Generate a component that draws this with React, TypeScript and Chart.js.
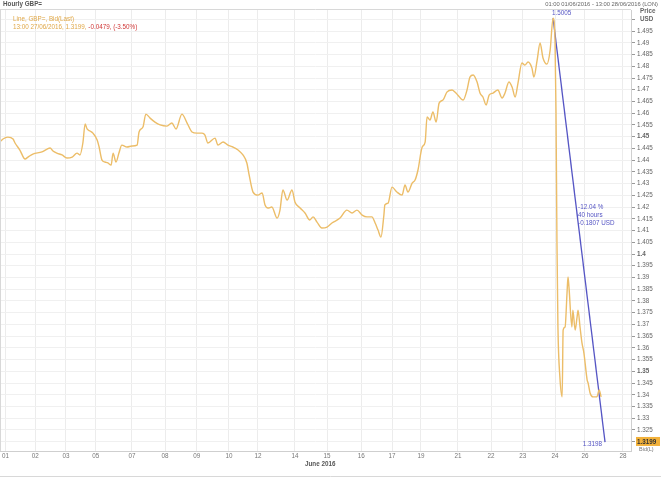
import React, { useEffect, useRef } from "react";
import { Chart, registerables } from "chart.js";

Chart.register(...registerables);

// Trading-time position (in trading days from 1 June, weekends compressed)
const timePos = [
  -0.09, 0, 0.15, 0.31, 0.37, 0.52, 0.68, 0.77, 0.92, 1.2, 1.36, 1.45, 1.54, 1.66, 1.82, 1.97, 2.13, 2.28, 2.37, 2.46,
  2.53, 2.59, 2.68, 2.77, 2.9, 2.96, 3.05, 3.14, 3.23, 3.33, 3.39, 3.48, 3.57, 3.66, 3.82, 3.97, 4.13, 4.19, 4.31, 4.4,
  4.53, 4.68, 4.84, 5.05, 5.2, 5.33, 5.51, 5.67, 5.82, 5.97, 6.13, 6.22, 6.31, 6.53, 6.62, 6.78, 6.93, 7.08, 7.24, 7.39,
  7.51, 7.58, 7.7, 7.85, 7.98, 8.07, 8.16, 8.28, 8.44, 8.53, 8.62, 8.75, 8.9, 8.99, 9.15, 9.3, 9.45, 9.55, 9.67, 9.82,
  9.98, 10.13, 10.38, 10.59, 10.75, 10.9, 11.06, 11.21, 11.36, 11.46, 11.55, 11.64, 11.73, 11.76, 11.86, 11.98, 12.13,
  12.29, 12.38, 12.47, 12.6, 12.69, 12.78, 12.91, 13.0, 13.06, 13.15, 13.24, 13.34, 13.43, 13.55, 13.67, 13.83, 13.92,
  14.01, 14.17, 14.29, 14.38, 14.48, 14.6, 14.69, 14.78, 14.88, 14.97, 15.09, 15.24, 15.37, 15.46, 15.58, 15.68, 15.77,
  15.86, 15.98, 16.07, 16.17, 16.29, 16.35, 16.45, 16.54, 16.63, 16.75, 16.85, 16.94, 17.0, 17.03, 17.06, 17.09, 17.15,
  17.22, 17.25, 17.31, 17.37, 17.4, 17.43, 17.52, 17.55, 17.62, 17.68, 17.71, 17.77, 17.83, 17.89, 17.99, 18.02, 18.08,
  18.17, 18.29, 18.36, 18.42,
];

// GBP= Bid (Last), USD
const bidPrice = [
  1.4478, 1.449, 1.4498, 1.449, 1.4473, 1.4443, 1.4405, 1.4413, 1.4426, 1.4435, 1.4447, 1.4452, 1.4439, 1.443, 1.4422,
  1.4409, 1.4413, 1.443, 1.4422, 1.4473, 1.4554, 1.4533, 1.4524, 1.4515, 1.4486, 1.4456, 1.44, 1.4392, 1.4388, 1.4379,
  1.443, 1.4392, 1.443, 1.4464, 1.4456, 1.446, 1.4464, 1.452, 1.4541, 1.4596, 1.4579, 1.4562, 1.455, 1.4545, 1.4558,
  1.4533, 1.4596, 1.4558, 1.452, 1.4515, 1.4515, 1.4507, 1.4473, 1.4494, 1.4464, 1.4477, 1.4464, 1.4456, 1.4443, 1.4422,
  1.4388, 1.4337, 1.4264, 1.4251, 1.426, 1.4209, 1.4196, 1.42, 1.4153, 1.4187, 1.4273, 1.423, 1.4273, 1.4222, 1.4196,
  1.4175, 1.4145, 1.4158, 1.4136, 1.4111, 1.4115, 1.4132, 1.4153, 1.4187, 1.4175, 1.4187, 1.4166, 1.4158, 1.4158, 1.4132,
  1.4102, 1.4072, 1.4166, 1.4209, 1.4217, 1.4285, 1.4264, 1.4251, 1.4294, 1.4264, 1.4302, 1.4315, 1.4358, 1.4456, 1.4477,
  1.4584, 1.4571, 1.4605, 1.4562, 1.4643, 1.4656, 1.469, 1.4699, 1.469, 1.4677, 1.4656, 1.4699, 1.4754, 1.4763, 1.4733,
  1.4686, 1.4669, 1.4635, 1.4677, 1.4686, 1.4699, 1.4665, 1.4686, 1.4733, 1.4711, 1.4669, 1.4728, 1.4814, 1.4805, 1.4818,
  1.4792, 1.4754, 1.4826, 1.4899, 1.4835, 1.4809, 1.4869, 1.5005, 1.4912, 1.4613, 1.4047, 1.3689, 1.3476, 1.3391, 1.3676,
  1.3689, 1.3834, 1.3902, 1.3859, 1.3689, 1.3761, 1.3676, 1.3732, 1.3761, 1.3689, 1.3621, 1.3578, 1.3463, 1.345, 1.3408,
  1.3391, 1.3391, 1.3421, 1.3391,
];

const dayTickPos = [0.08, 0.99, 1.94, 2.86, 3.97, 4.99, 5.97, 6.96, 7.85, 8.99, 9.98, 11.03, 11.98, 12.87, 14.01, 15.03, 16.01, 17.0, 17.92, 19.09];
const dayTickLabels = ["01", "02", "03", "05", "07", "08", "09", "10", "12", "14", "15", "16", "17", "19", "21", "22", "23", "24", "26", "28"];

const priceTicks = [
  1.32, 1.325, 1.33, 1.335, 1.34, 1.345, 1.35, 1.355, 1.36, 1.365, 1.37, 1.375, 1.38, 1.385, 1.39, 1.395, 1.4, 1.405,
  1.41, 1.415, 1.42, 1.425, 1.43, 1.435, 1.44, 1.445, 1.45, 1.455, 1.46, 1.465, 1.47, 1.475, 1.48, 1.485, 1.49, 1.495, 1.5,
];
const boldPriceTicks = [1.35, 1.4, 1.45, 1.5];
const hiddenPriceTicks = [1.5];

// Trend measurement line
const trendPos = [16.94, 18.54];
const trendPrice = [1.5005, 1.3198];
const trendStats = ["-12.04 %", "40 hours", "-0.1807 USD"];

const lastPrice = 1.3199;
const titleText = "Hourly GBP=";
const rangeText = "01:00 01/06/2016 - 13:00 28/06/2016 (LON)";
const legendLine1 = "Line, GBP=, Bid(Last)";
const legendLine2a = "13:00 27/06/2016, 1.3199, ";
const legendLine2b = "-0.0479, (-3.50%)";
const monthLabel = "June 2016";
const monthLabelPos = 9.3;

const FONT = "'Liberation Sans', Arial, sans-serif";
const ORANGE = "#ecbd68";
const BLUE = "#5555c4";

const overlay = {
  id: "overlay",
  beforeDraw(chart: any) {
    const { ctx, width, height } = chart;
    ctx.save();
    ctx.fillStyle = "#ffffff";
    ctx.fillRect(0, 0, width, height);
    ctx.restore();
  },
  afterDraw(chart: any) {
    const { ctx, chartArea, scales } = chart;
    const xS = scales.x;
    const yS = scales.y;
    ctx.save();
    // frame lines
    ctx.strokeStyle = "#d8d8d8";
    ctx.lineWidth = 1;
    ctx.beginPath();
    ctx.moveTo(0, chartArea.top - 0.5);
    ctx.lineTo(chartArea.right, chartArea.top - 0.5);
    ctx.moveTo(0.5, chartArea.top);
    ctx.lineTo(0.5, chartArea.bottom);
    ctx.moveTo(0, 476.5);
    ctx.lineTo(chart.width, 476.5);
    ctx.stroke();

    ctx.textBaseline = "middle";
    // title
    ctx.font = `bold 6.3px ${FONT}`;
    ctx.fillStyle = "#555";
    ctx.textAlign = "left";
    ctx.fillText(titleText, 3, 4);
    // range
    ctx.font = `5.8px ${FONT}`;
    ctx.fillStyle = "#666";
    ctx.textAlign = "right";
    ctx.fillText(rangeText, 658, 4);
    // Price / USD
    ctx.font = `bold 6.3px ${FONT}`;
    ctx.fillStyle = "#666";
    ctx.textAlign = "left";
    ctx.fillText("Price", 640, 11);
    ctx.fillText("USD", 640, 19);

    // legend
    ctx.font = `6.3px ${FONT}`;
    ctx.fillStyle = "#e0a848";
    ctx.fillText(legendLine1, 13, 19);
    ctx.fillText(legendLine2a, 13, 27);
    const w = ctx.measureText(legendLine2a).width;
    ctx.fillStyle = "#d03838";
    ctx.fillText(legendLine2b, 13 + w, 27);

    // trend annotations
    const x0 = xS.getPixelForValue(trendPos[0]);
    const y0 = yS.getPixelForValue(trendPrice[0]);
    const x1 = xS.getPixelForValue(trendPos[1]);
    const y1 = yS.getPixelForValue(trendPrice[1]);
    ctx.fillStyle = BLUE;
    ctx.font = `6.3px ${FONT}`;
    ctx.textAlign = "left";
    ctx.fillText(trendPrice[0].toFixed(4), x0 - 1, y0 - 5);
    const mx = (x0 + x1) / 2;
    const my = (y0 + y1) / 2;
    trendStats.forEach((s, i) => ctx.fillText(s, mx - 1, my - 23 + i * 8));
    ctx.textAlign = "right";
    ctx.fillText(trendPrice[1].toFixed(4), x1 - 3, y1 + 2);

    // last price box
    const ly = yS.getPixelForValue(lastPrice);
    ctx.fillStyle = "#f2b13a";
    ctx.fillRect(chartArea.right + 5, ly - 5, 24, 9);
    ctx.fillStyle = "#333";
    ctx.font = `bold 6.3px ${FONT}`;
    ctx.textAlign = "left";
    ctx.fillText(lastPrice.toFixed(4), chartArea.right + 6, ly);
    ctx.font = `5.5px ${FONT}`;
    ctx.fillStyle = "#777";
    ctx.fillText("Bid(L)", chartArea.right + 8, ly + 8);

    // month label
    ctx.font = `bold 6.3px ${FONT}`;
    ctx.fillStyle = "#555";
    ctx.textAlign = "left";
    ctx.fillText(monthLabel, xS.getPixelForValue(monthLabelPos), 464);
    ctx.restore();
  },
};

export default function App() {
  const ref = useRef<HTMLCanvasElement | null>(null);
  useEffect(() => {
    if (!ref.current) return;
    const chart = new Chart(ref.current, {
      type: "line",
      data: {
        datasets: [
          {
            label: "GBP= Bid",
            data: timePos.map((x, i) => ({ x, y: bidPrice[i] })),
            borderColor: ORANGE,
            borderWidth: 1.4,
            pointRadius: 0,
            cubicInterpolationMode: "monotone",
            fill: false,
          },
          {
            label: "Trend",
            data: trendPos.map((x, i) => ({ x, y: trendPrice[i] })),
            borderColor: BLUE,
            borderWidth: 1.3,
            pointRadius: 0,
            fill: false,
          },
        ],
      },
      options: {
        animation: false,
        responsive: false,
        devicePixelRatio: 1,
        layout: { padding: { top: 10, left: 0, right: 0, bottom: 0 } },
        plugins: { legend: { display: false }, tooltip: { enabled: false } },
        scales: {
          x: {
            type: "linear",
            min: -0.092,
            max: 19.34,
            afterBuildTicks: (s: any) => {
              s.ticks = dayTickPos.map((v) => ({ value: v }));
            },
            afterFit: (s: any) => {
              s.height = 29;
            },
            ticks: {
              autoSkip: false,
              maxRotation: 0,
              padding: 1,
              color: "#777",
              font: { size: 6.3, family: FONT },
              callback: (_v: any, i: number) => dayTickLabels[i],
            },
            grid: { color: "#ececec", drawTicks: false },
            border: { color: "#cfcfcf" },
          },
          y: {
            type: "linear",
            position: "right",
            min: 1.31605,
            max: 1.50398,
            afterBuildTicks: (s: any) => {
              s.ticks = priceTicks.map((v) => ({ value: v }));
            },
            afterFit: (s: any) => {
              s.width = 30;
            },
            ticks: {
              padding: 2,
              color: "#666",
              font: (c: any) => ({
                size: 6.3,
                family: FONT,
                weight: boldPriceTicks.some((b) => Math.abs(b - c.tick?.value) < 1e-6) ? "bold" : "normal",
              }),
              callback: (v: any) =>
                hiddenPriceTicks.some((h) => Math.abs(h - v) < 1e-6) ? "" : String(Number(Number(v).toFixed(3))),
            },
            grid: { color: "#f0f0f0", tickLength: 4, tickColor: "#999" },
            border: { color: "#cfcfcf" },
          },
        },
      },
      plugins: [overlay],
    } as any);
    return () => chart.destroy();
  }, []);
  return (
    <div style={{ position: "absolute", left: 0, top: 0, width: 661, height: 480, background: "#fff" }}>
      <canvas ref={ref} width={661} height={480} />
    </div>
  );
}
